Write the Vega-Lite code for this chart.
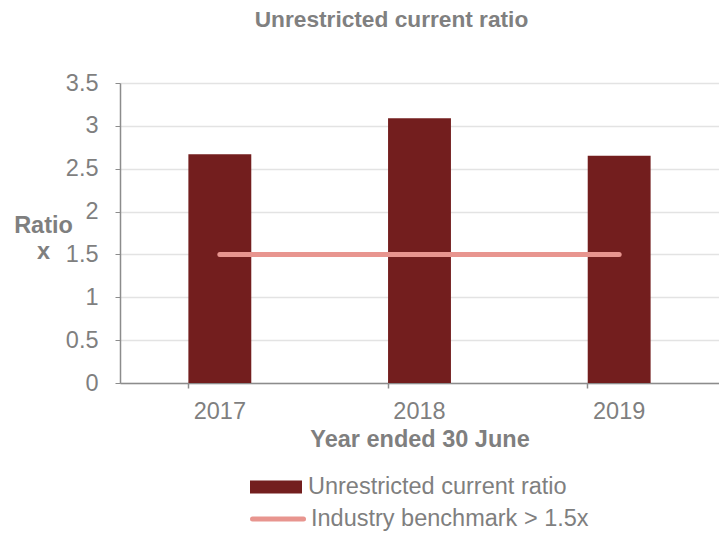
{
  "$schema": "https://vega.github.io/schema/vega-lite/v6.json",
  "width": 599,
  "height": 300,
  "autosize": "none",
  "padding": {"left": 120, "top": 83, "right": 0, "bottom": 151},
  "config": {"view": {"stroke": null}, "font": "Liberation Sans"},
  "title": {"text": "Unrestricted current ratio", "fontSize": 22.7, "fontWeight": "bold", "color": "#808080", "font": "Liberation Sans", "dx": -28, "offset": 39, "anchor": "middle"},
  "data": {"values": [
    {"year": "2017", "ratio": 2.67, "benchmark": 1.5},
    {"year": "2018", "ratio": 3.09, "benchmark": 1.5},
    {"year": "2019", "ratio": 2.65, "benchmark": 1.5}
  ]},
  "encoding": {
    "x": {"field": "year", "type": "ordinal",
      "scale": {"paddingInner": 0.685, "paddingOuter": 0.3425},
      "axis": {"title": "Year ended 30 June", "titleFontSize": 23.5, "titleFontWeight": "bold", "titleColor": "#7f7f7f", "titlePadding": 5,
        "labelAngle": 0, "labelFontSize": 23.5, "labelColor": "#7f7f7f", "labelPadding": 11,
        "bandPosition": 0, "tickColor": "#8c8c8c", "tickSize": 5, "tickWidth": 1.5, "domainColor": "#8c8c8c", "domainWidth": 1.5, "grid": false}}
  },
  "layer": [
    {
      "mark": {"type": "bar", "color": "#731e1e"},
      "encoding": {
        "y": {"field": "ratio", "type": "quantitative",
          "scale": {"domain": [0, 3.5], "nice": false},
          "axis": {"values": [0, 0.5, 1, 1.5, 2, 2.5, 3, 3.5], "labelExpr": "'' + datum.value",
            "title": ["Ratio", "x"], "titleAngle": 0, "titleX": -77, "titleY": 142, "titleAlign": "center", "titleBaseline": "middle",
            "titleFontSize": 23.5, "titleFontWeight": "bold", "titleColor": "#7f7f7f", "titleLineHeight": 26,
            "labelFontSize": 23.5, "labelColor": "#7f7f7f", "labelPadding": 17,
            "tickSize": 5, "tickColor": "#8c8c8c", "domainColor": "#8c8c8c", "domainWidth": 1.5,
            "gridColor": "#e3e3e3", "gridWidth": 1.5}},
        "fill": {"datum": "Unrestricted current ratio", "type": "nominal",
          "scale": {"range": ["#731e1e"]},
          "legend": {"title": null, "orient": "none", "legendX": 130, "legendY": 378,
            "symbolType": "M-1,-0.25H1V0.25H-1Z", "symbolSize": 2704, "symbolOpacity": 1, "symbolStrokeWidth": 0,
            "labelFontSize": 23.5, "labelColor": "#7f7f7f", "labelOffset": 6, "labelLimit": 0}}
      }
    },
    {
      "mark": {"type": "line", "strokeWidth": 5, "strokeCap": "round"},
      "encoding": {
        "y": {"field": "benchmark", "type": "quantitative"},
        "stroke": {"datum": "Industry benchmark > 1.5x", "type": "nominal",
          "scale": {"range": ["#e8958f"]},
          "legend": {"title": null, "orient": "none", "legendX": 130, "legendY": 408,
            "symbolType": "stroke", "symbolSize": 2601, "symbolStrokeWidth": 5,
            "labelFontSize": 23.5, "labelColor": "#7f7f7f", "labelOffset": 5, "labelLimit": 0,
            "encode": {"symbols": {"update": {"strokeCap": {"value": "round"}}}}}}
      }
    }
  ]
}
